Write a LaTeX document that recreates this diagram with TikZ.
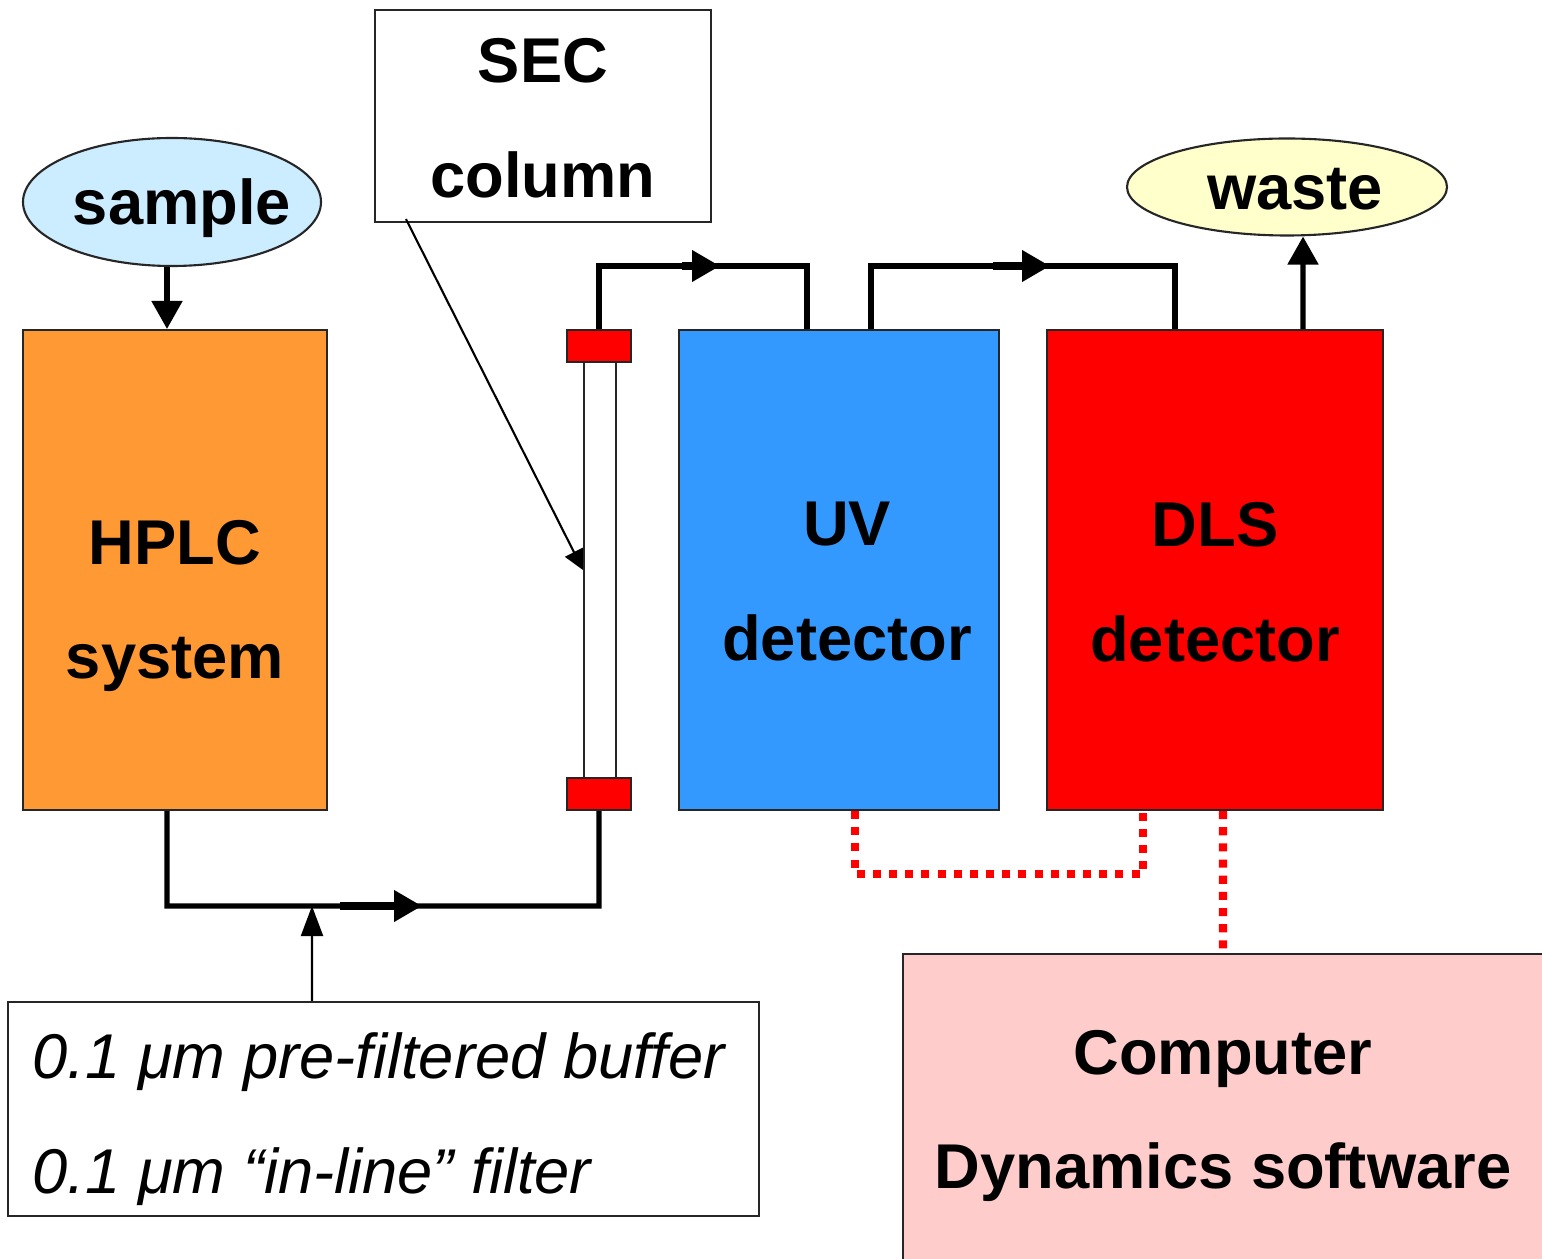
\documentclass[tikz,border=0pt]{standalone}
\usepackage{fontspec}
\setmainfont{Liberation Sans}
\usetikzlibrary{arrows.meta,shapes.geometric}

\definecolor{samplecol}{HTML}{CCECFF}
\definecolor{wastecol}{HTML}{FFFFCC}
\definecolor{hplccol}{HTML}{FF9933}
\definecolor{uvcol}{HTML}{3399FF}
\definecolor{pccol}{HTML}{FFCCCC}

\begin{document}
\begin{tikzpicture}[
	box/.style={draw=black!85, line width=0.6pt, inner sep=0pt},
	lbl/.style={font=\fontsize{18}{32.7}\selectfont\bfseries, align=center, inner sep=0pt},
	flow/.style={line width=1.45pt},
	tip/.style={-{Triangle[length=0.28cm,width=0.3cm]}},
	signal/.style={red, line width=2.3pt, dash pattern=on 2.3pt off 2.3pt},
	]
	\useasboundingbox (0,0) rectangle (15.42,12.58);

	% instruments
	\node[box, ellipse, fill=samplecol, minimum width=2.98cm, minimum height=1.28cm] (sample) at (1.72,10.56) {};
	\node[box, ellipse, fill=wastecol, minimum width=3.2cm, minimum height=0.97cm] (waste) at (12.87,10.71) {};
	\node[box, fill=white, minimum width=3.36cm, minimum height=2.12cm] (sec) at (5.43,11.42) {};
	\node[box, fill=hplccol, minimum width=3.04cm, minimum height=4.8cm] (hplc) at (1.75,6.88) {};
	\node[box, fill=uvcol, minimum width=3.2cm, minimum height=4.8cm] (uv) at (8.39,6.88) {};
	\node[box, fill=red, minimum width=3.36cm, minimum height=4.8cm] (dls) at (12.15,6.88) {};
	\node[box, fill=pccol, minimum width=6.6cm, minimum height=3.1cm] (pc) at (12.33,1.49) {};
	\node[box, fill=white, minimum width=7.51cm, minimum height=2.14cm] (buffer) at (3.835,1.49) {};

	% column
	\node[box, minimum width=0.32cm, minimum height=4.16cm] (tube) at (6.00,6.88) {};
	\node[box, fill=red, minimum width=0.64cm, minimum height=0.32cm] (topcap) at (5.99,9.12) {};
	\node[box, fill=red, minimum width=0.64cm, minimum height=0.32cm] (botcap) at (5.99,4.64) {};

	% texts
	\node[lbl, anchor=base] (sampletxt) at (1.82,10.33) {sample};
	\node[lbl, anchor=base] (wastetxt) at (12.95,10.48) {waste};
	\node[lbl] (sectxt) at (5.43,11.395) {SEC\\column};
	\node[lbl] (hplctxt) at (1.75,6.52) {HPLC\\system};
	\node[lbl] (uvtxt) at (8.47,6.76) {UV\\detector};
	\node[lbl] (dlstxt) at (12.15,6.76) {DLS\\detector};
	\node[lbl] (pctxt) at (12.23,1.42) {Computer\\Dynamics software};
	\node[lbl, font=\fontsize{18}{32.7}\selectfont\itshape, align=left, anchor=west] (buffertxt) at (0.32,1.39)
		{0.1 μm pre-filtered buffer\\0.1 μm “in-line” filter};

	% flow path
	\coordinate (lowrun) at (1.67,3.52);
	\coordinate (lowtail) at (3.40,3.52);
	\coordinate (lowmid) at (4.22,3.52);
	\coordinate (feedin) at (3.12,3.52);
	\coordinate (toptail) at (6.82,9.92);
	\coordinate (topmid) at (7.20,9.92);
	\coordinate (uvtail) at (9.93,9.92);
	\coordinate (uvmid) at (10.50,9.92);
	\coordinate (sigrun) at (11.43,3.84);

	\draw[flow, tip] ([xshift=-0.05cm]sample.south) -- ([xshift=-0.08cm]hplc.north);
	\draw[flow] ([xshift=-0.08cm]hplc.south) -- (lowrun) -| (botcap.south);
	\draw[flow] (topcap.north) |- ([xshift=-0.32cm]uv.north |- topmid) -- ([xshift=-0.32cm]uv.north);
	\draw[flow] ([xshift=0.32cm]uv.north) |- ([xshift=-0.40cm]dls.north |- uvmid) -- ([xshift=-0.40cm]dls.north);
	\draw[flow, tip] ([xshift=0.88cm]dls.north) -- ([xshift=0.16cm]waste.south);
	\draw[line width=2pt, tip] (lowtail) -- (lowmid);
	\draw[line width=2pt, tip] (toptail) -- (topmid);
	\draw[line width=2pt, tip] (uvtail) -- (uvmid);

	\draw[line width=0.6pt, -{Triangle[length=0.3cm,width=0.22cm]}] ([xshift=-0.715cm]buffer.north) -- (feedin);
	\draw[line width=0.6pt, -{Triangle[length=0.2cm,width=0.2cm]}] ([shift={(0.32,0.04)}]sec.south west) -- (tube.west);

	% signal cables
	\draw[signal] ([xshift=0.16cm]uv.south) |- (sigrun) -- ([xshift=-0.72cm]dls.south);
	\draw[signal] ([xshift=0.08cm]dls.south) -- ([xshift=-0.10cm]pc.north);
\end{tikzpicture}
\end{document}
